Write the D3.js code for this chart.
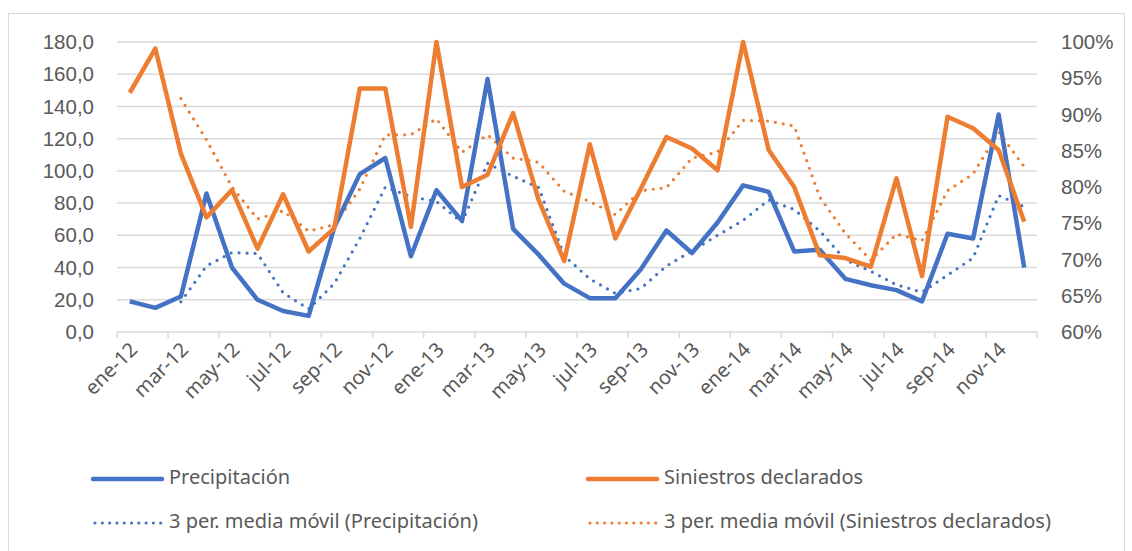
<!DOCTYPE html>
<html>
<head>
<meta charset="utf-8">
<script src="https://cdn.jsdelivr.net/npm/d3@7"></script>
<style>
  body { margin: 0; background: #fff; }
  svg { display: block; font-family: 'Noto Sans', 'Open Sans', sans-serif; }
</style>
</head>
<body>
<div id="chart"></div>
<script>
// months ene-12 .. dic-14
const monthNames = ['ene', 'feb', 'mar', 'abr', 'may', 'jun', 'jul', 'ago', 'sep', 'oct', 'nov', 'dic'];
const years = ['12', '13', '14'];
const categories = years.flatMap(y => monthNames.map(m => `${m}-${y}`));

// Precipitación (left axis)
const precipitacion = [19, 15, 22, 86, 40, 20, 13, 10, 65, 98, 108, 47,
  88, 69, 157, 64, 48, 30, 21, 21, 39, 63, 49, 68,
  91, 87, 50, 51, 33, 29, 26, 19, 61, 58, 135, 40];

// Siniestros declarados (right axis, %)
const siniestros = [93.0, 99.1, 84.6, 75.8, 79.6, 71.5, 79.0, 71.1, 74.3, 93.6, 93.6, 74.5,
  100, 80.0, 81.7, 90.2, 78.2, 69.8, 85.9, 72.9, 79.8, 86.9, 85.3, 82.3,
  100, 85.1, 80.0, 70.6, 70.2, 69.0, 81.2, 67.7, 89.7, 88.1, 85.1, 75.2];

// 3 per. media móvil (first two months empty)
const mmPrecip = [null, null, 18.7, 41, 49.3, 48.7, 24.3, 14.3, 30, 58, 90, 84,
  81, 68, 104.7, 96.7, 89.7, 47.3, 33, 24, 27, 41, 50.3, 60,
  69.3, 82, 76, 62.7, 44.7, 37.7, 29.3, 24.7, 35.3, 46, 84.7, 77.7];
const mmSiniestros = [null, null, 92.2, 86.5, 80, 75.6, 76.7, 73.9, 74.8, 79.7, 87.2, 87.2,
  89.4, 84.8, 87.2, 84, 83.4, 79.4, 78, 76.2, 79.5, 79.9, 84, 84.8,
  89.2, 89.1, 88.4, 78.6, 73.6, 69.9, 73.5, 72.6, 79.5, 81.8, 87.6, 82.8];

const leftTicks = [0, 20, 40, 60, 80, 100, 120, 140, 160, 180];
const rightTicks = [60, 65, 70, 75, 80, 85, 90, 95, 100];

const blue = '#4472C4', orange = '#ED7D31', textCol = '#595959', gridCol = '#d9d9d9';

const W = 1132, H = 551;
const plot = { left: 117, right: 1037, top: 42, bottom: 332 };

const svg = d3.select('#chart').append('svg').attr('width', W).attr('height', H);

// chart frame
svg.append('rect')
  .attr('x', 8.5).attr('y', 13.5)
  .attr('width', 1116).attr('height', 600)
  .attr('fill', 'none').attr('stroke', gridCol).attr('stroke-width', 1);

const x = d3.scaleBand().domain(categories).range([plot.left, plot.right]);
const yL = d3.scaleLinear().domain([0, 180]).range([plot.bottom, plot.top]);
const yR = d3.scaleLinear().domain([60, 100]).range([plot.bottom, plot.top]);
const cx = d => x(d) + x.bandwidth() / 2;

// Gridlines
svg.append('g').selectAll('line').data(leftTicks.slice(1)).join('line')
  .attr('x1', plot.left).attr('x2', plot.right)
  .attr('y1', d => yL(d)).attr('y2', d => yL(d))
  .attr('stroke', gridCol).attr('stroke-width', 1.5);

// Left axis
const gl = svg.append('g').attr('transform', `translate(${plot.left - 23},0)`)
  .call(d3.axisLeft(yL).tickValues(leftTicks).tickSize(0)
    .tickFormat(d => d3.format('.1f')(d).replace('.', ',')));
gl.select('.domain').remove();
gl.selectAll('text').attr('fill', textCol).attr('font-size', 20.5).attr('x', 0);

// Right axis
const gr = svg.append('g').attr('transform', `translate(${plot.right + 24},0)`)
  .call(d3.axisRight(yR).tickValues(rightTicks).tickSize(0).tickFormat(d => d + '%'));
gr.select('.domain').remove();
gr.selectAll('text').attr('fill', textCol).attr('font-size', 20.5).attr('x', 0);

// X axis line and ticks (every second month)
svg.append('line')
  .attr('x1', plot.left).attr('x2', plot.right)
  .attr('y1', plot.bottom).attr('y2', plot.bottom)
  .attr('stroke', gridCol).attr('stroke-width', 1.5);
const tickCats = categories.filter((d, i) => i % 2 === 0);
svg.append('g').selectAll('line').data(tickCats.concat(['end'])).join('line')
  .attr('x1', d => d === 'end' ? plot.right : x(d))
  .attr('x2', d => d === 'end' ? plot.right : x(d))
  .attr('y1', plot.bottom).attr('y2', plot.bottom + 6)
  .attr('stroke', gridCol).attr('stroke-width', 1.5);
svg.append('g').selectAll('text').data(tickCats).join('text')
  .attr('transform', d => `translate(${cx(d) + 5},${plot.bottom + 15}) rotate(-45)`)
  .attr('text-anchor', 'end')
  .attr('dominant-baseline', 'middle')
  .attr('fill', textCol).attr('font-size', 20)
  .text(d => d);

// Lines
const lineL = d3.line().defined(d => d[1] != null).x(d => cx(d[0])).y(d => yL(d[1]));
const lineR = d3.line().defined(d => d[1] != null).x(d => cx(d[0])).y(d => yR(d[1]));
const zip = vals => categories.map((c, i) => [c, vals[i]]);

function drawLine(gen, vals, color, dotted) {
  const p = svg.append('path')
    .datum(zip(vals))
    .attr('d', gen)
    .attr('fill', 'none')
    .attr('stroke', color)
    .attr('stroke-linejoin', 'round');
  if (dotted) {
    p.attr('stroke-width', 3.2).attr('stroke-dasharray', '0 8').attr('stroke-linecap', 'round');
  } else {
    p.attr('stroke-width', 4.5).attr('stroke-linecap', 'butt');
  }
}

drawLine(lineL, mmPrecip, blue, true);
drawLine(lineR, mmSiniestros, orange, true);
drawLine(lineL, precipitacion, blue, false);
drawLine(lineR, siniestros, orange, false);

// Legend
const legendItems = [
  { label: 'Precipitación', color: blue, dotted: false, x: 93, y: 479 },
  { label: 'Siniestros declarados', color: orange, dotted: false, x: 588, y: 479 },
  { label: '3 per. media móvil (Precipitación)', color: blue, dotted: true, x: 93, y: 523 },
  { label: '3 per. media móvil (Siniestros declarados)', color: orange, dotted: true, x: 588, y: 523 }
];
const lg = svg.append('g').selectAll('g').data(legendItems).join('g')
  .attr('transform', d => `translate(${d.x},${d.y})`);
lg.append('line')
  .attr('x1', d => d.dotted ? 2 : 0).attr('x2', 69).attr('y1', 0).attr('y2', 0)
  .attr('stroke', d => d.color)
  .attr('stroke-width', d => d.dotted ? 3.2 : 4.5)
  .attr('stroke-linecap', 'round')
  .attr('stroke-dasharray', d => d.dotted ? '0 7.3' : null);
lg.append('text')
  .attr('x', 76).attr('y', 0)
  .attr('dominant-baseline', 'middle')
  .attr('fill', textCol).attr('font-size', 20)
  .text(d => d.label);
</script>
</body>
</html>
